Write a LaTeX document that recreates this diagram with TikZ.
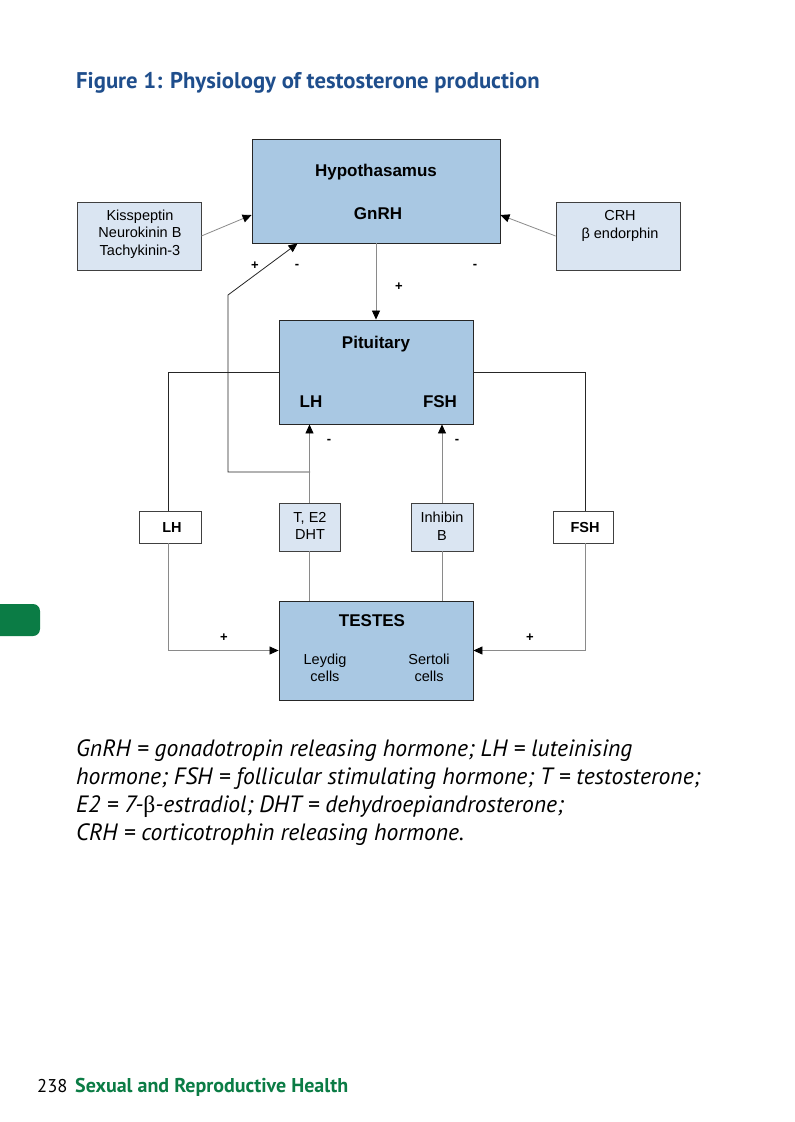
\documentclass[tikz,border=0pt]{standalone}
\usepackage{fontspec}
\setmainfont{Liberation Sans}
\newfontfamily\ptfont{PT Sans}
\newfontfamily\serifb{Liberation Serif}
\usetikzlibrary{arrows.meta,calc}
\definecolor{boxdark}{HTML}{A9C8E3}
\definecolor{boxlight}{HTML}{DAE5F2}
\definecolor{titleblue}{HTML}{1F4E8C}
\definecolor{pagegreen}{HTML}{0B7C45}
\definecolor{linegray}{HTML}{8A8A8A}
\tikzset{
  bigbox/.style={draw=black!85,line width=0.9pt,fill=boxdark,inner sep=0pt},
  smallbox/.style={draw=black!75,line width=0.8pt,fill=boxlight,inner sep=0pt},
  whitebox/.style={draw=black!75,line width=0.8pt,fill=white,inner sep=0pt},
  tip/.style={-{Triangle[length=9pt,width=8pt,color=black]}},
  gline/.style={draw=linegray,line width=0.8pt},
  kline/.style={draw=black!85,line width=0.8pt},
  bigtxt/.style={font=\fontsize{17}{20}\selectfont\bfseries},
  smtxt/.style={font=\fontsize{14.5}{17.5}\selectfont,align=center},
  sign/.style={font=\fontsize{13}{13}\selectfont\bfseries},
  captxt/.style={anchor=base west,inner sep=0pt,font=\fontsize{23.6}{26}\selectfont\ptfont\itshape}
}
\begin{document}
\begin{tikzpicture}[x=1pt,y=-1pt]
\useasboundingbox[fill=white] (0,0) rectangle (795,1122);
% title
\node[anchor=base west,inner sep=0pt,text=titleblue,font=\fontsize{22.7}{24}\selectfont\ptfont\bfseries] (title) at (76,88) {Figure 1: Physiology of testosterone production};
% green tab
\fill[pagegreen,rounded corners=7pt] (-10,604) rectangle (40,636);
% boxes
\node[bigbox,minimum width=248pt,minimum height=104pt] (hyp) at (376,191) {};
\node[smallbox,minimum width=124pt,minimum height=68pt] (kiss) at (139,236) {};
\node[smallbox,minimum width=124pt,minimum height=68pt] (crh) at (618,236) {};
\node[bigbox,minimum width=194pt,minimum height=104pt] (pit) at (376,372) {};
\node[smallbox,minimum width=61pt,minimum height=48pt] (te) at (309.5,527) {};
\node[smallbox,minimum width=62pt,minimum height=48pt] (inh) at (442,527) {};
\node[whitebox,minimum width=62pt,minimum height=32pt] (lhb) at (170,527) {};
\node[whitebox,minimum width=60pt,minimum height=32pt] (fshb) at (583,527) {};
\node[bigbox,minimum width=194pt,minimum height=99pt] (tes) at (376,650.5) {};
% box texts
\node[bigtxt] (hyptxt) at (376,172) {Hypothasamus};
\node[bigtxt] (gnrh) at (378,214) {GnRH};
\node[smtxt] (kisstxt) at (140,234) {Kisspeptin\\Neurokinin B\\Tachykinin-3};
\node[smtxt] (crhtxt) at (620,226) {CRH\\β endorphin};
\node[bigtxt] (pittxt) at (376,344) {Pituitary};
\node[bigtxt] (pitlh) at (311,402) {LH};
\node[bigtxt] (pitfsh) at (440,402) {FSH};
\node[smtxt] (tetxt) at (310,526) {T, E2\\DHT};
\node[smtxt] (inhtxt) at (442,526) {Inhibin\\B};
\node[font=\fontsize{14.5}{17}\selectfont\bfseries] (lhtxt) at (172,528) {LH};
\node[font=\fontsize{14.5}{17}\selectfont\bfseries] (fshtxt) at (585,528) {FSH};
\node[bigtxt] (testxt) at (372,621) {TESTES};
\node[smtxt] (leyd) at (325,668) {Leydig\\cells};
\node[smtxt] (sert) at (429,668) {Sertoli\\cells};
% connectors
\coordinate (fbA) at (310,472);
\coordinate (fbB) at (228,472);
\coordinate (fbC) at (228,295);
\draw[gline,tip] (kiss.east) -- ([yshift=-24pt]hyp.west);
\draw[gline,tip] (crh.west) -- ([yshift=-24pt]hyp.east);
\draw[gline,tip] (hyp.south) -- (pit.north);
\draw[kline,tip] (fbA) -- (fbB) -- (fbC) -- ([xshift=46pt]hyp.south west);
\draw[gline,tip] (te.north) -- (te.north |- pit.south);
\draw[gline] (te.south) -- (te.south |- tes.north);
\draw[gline,tip] (inh.north) -- (inh.north |- pit.south);
\draw[gline] (inh.south) -- (inh.south |- tes.north);
\draw[kline] (pit.west) -| ([xshift=-2pt]lhb.north);
\draw[gline,tip] ([xshift=-2pt]lhb.south) |- (tes.west);
\draw[kline] (pit.east) -| ([xshift=2pt]fshb.north);
\draw[gline,tip] ([xshift=2pt]fshb.south) |- (tes.east);
% signs
\node[sign] (s1) at (255,266) {+};
\node[sign] (s2) at (297,266) {-};
\node[sign] (s3) at (475,266) {-};
\node[sign] (s4) at (399,287) {+};
\node[sign] (s5) at (329,441) {-};
\node[sign] (s6) at (457,441) {-};
\node[sign] (s7) at (224,638) {+};
\node[sign] (s8) at (530,638) {+};
% caption
\node[captxt] (c1) at (76,756) {GnRH = gonadotropin releasing hormone; LH = luteinising};
\node[captxt] (c2) at (76,784) {hormone; FSH = follicular stimulating hormone; T = testosterone;};
\node[captxt] (c3) at (76,812) {E2 = 7-{\serifb\upshape β}-estradiol; DHT = dehydroepiandrosterone;};
\node[captxt] (c4) at (76,840) {CRH = corticotrophin releasing hormone.};
% footer
\node[anchor=base west,inner sep=0pt,font=\fontsize{18.5}{22}\selectfont\ptfont] (pg) at (37,1092) {238};
\node[anchor=base west,inner sep=0pt,text=pagegreen,font=\fontsize{20}{22}\selectfont\ptfont\bfseries] (ft) at (75,1092) {Sexual and Reproductive Health};
\end{tikzpicture}
\end{document}
